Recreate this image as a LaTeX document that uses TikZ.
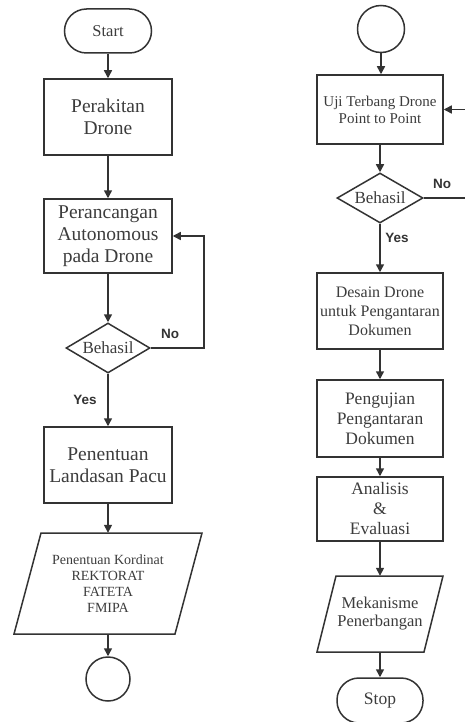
\documentclass[tikz,border=0pt]{standalone}
\usepackage{fontspec}
\setmainfont{Liberation Serif}
\newfontfamily\labelfont{Liberation Sans}
\usetikzlibrary{shapes.geometric,arrows.meta,calc}
\definecolor{ln}{HTML}{333333}
\definecolor{tx}{HTML}{3C3C3C}
\begin{document}
\begin{tikzpicture}[x=1pt,y=-1pt,
  base/.style={draw=ln,line width=1.5pt,text=tx,align=center,inner sep=0pt},
  box/.style={base,rectangle,minimum width=128pt},
  rbox/.style={base,rectangle,minimum width=126pt},
  term/.style={base,rectangle,rounded corners=22pt,minimum height=44pt},
  dia/.style={base,diamond,aspect=1.66,minimum width=84pt,minimum height=50pt,font=\fontsize{17}{19}\selectfont},
  conn/.style={base,circle,minimum size=45pt},
  para/.style={inner sep=0pt,text=tx,align=center},
  outl/.style={draw=ln,line width=1.5pt},
  arr/.style={draw=ln,line width=1.5pt,-{Triangle[length=8pt,width=8pt]}},
  lbl/.style={text=ln,inner sep=0pt,font=\labelfont\bfseries\fontsize{13.5}{15}\selectfont},
  bigtxt/.style={font=\fontsize{19.5}{22}\selectfont}
]
\useasboundingbox (0,0) rectangle (464,722);

% ---------- left column ----------
\node[term,minimum width=87pt,font=\fontsize{16.5}{18}\selectfont] (start) at (108,31) {Start};
\node[box,bigtxt,minimum height=76pt] (b1) at (108,117) {Perakitan\\Drone};
\node[box,bigtxt,minimum height=74pt] (b2) at (108,236) {Perancangan\\Autonomous\\pada Drone};
\node[dia] (d1) at (108,348) {Behasil};
\node[box,bigtxt,minimum height=76pt] (b3) at (108,465) {Penentuan\\Landasan Pacu};
\node[para,minimum width=148pt,minimum height=101pt,font=\fontsize{14}{16}\selectfont] (p1) at (108,583.5) {Penentuan Kordinat\\REKTORAT\\FATETA\\FMIPA};
\draw[outl] ($(p1.center)+(-67,-50.5)$) -- ($(p1.center)+(94,-50.5)$) -- ($(p1.center)+(67,50.5)$) -- ($(p1.center)+(-94,50.5)$) -- cycle;
\node[conn,minimum size=44pt] (c1) at (108,679) {};

\node[lbl] (no1) at (170,334) {No};
\node[lbl] (yes1) at (85,400) {Yes};

\draw[arr] (start) -- (b1);
\draw[arr] (b1) -- (b2);
\draw[arr] (b2) -- (d1);
\draw[arr] (d1) -- (b3);
\draw[arr] (b3) -- (p1);
\draw[arr] (p1) -- (c1);
\draw[arr] (d1.east) -- ++(53,0) |- (b2.east);

% ---------- right column ----------
\node[conn,minimum size=47pt] (c2) at (381,29) {};
\node[rbox,minimum height=69pt,font=\fontsize{15}{17}\selectfont] (r1) at (380,109.5) {Uji Terbang Drone\\Point to Point};
\node[dia,minimum width=86pt] (d2) at (380,198) {Behasil};
\node[rbox,minimum height=76pt,font=\fontsize{16}{19}\selectfont] (r2) at (380,311) {Desain Drone\\untuk Pengantaran\\Dokumen};
\node[rbox,minimum height=77pt,font=\fontsize{17.5}{20}\selectfont] (r3) at (380,418.5) {Pengujian\\Pengantaran\\Dokumen};
\node[rbox,minimum height=64pt,font=\fontsize{17.5}{20}\selectfont] (r4) at (380,509) {Analisis\\\&\\Evaluasi};
\node[para,minimum width=107pt,minimum height=76pt,font=\fontsize{16.5}{18}\selectfont] (p2) at (380,614) {Mekanisme\\Penerbangan};
\draw[outl] ($(p2.center)+(-44,-38)$) -- ($(p2.center)+(63,-38)$) -- ($(p2.center)+(44,38)$) -- ($(p2.center)+(-63,38)$) -- cycle;
\node[term,minimum width=86pt,minimum height=45pt,font=\fontsize{17.5}{19}\selectfont] (stop) at (380,700.5) {Stop};

\node[lbl] (no2) at (442,184) {No};
\node[lbl] (yes2) at (397,238) {Yes};

\draw[arr] (c2) -- (c2 |- r1.north);
\draw[arr] (r1) -- (d2);
\draw[arr] (d2) -- (r2);
\draw[arr] (r2) -- (r3);
\draw[arr] (r3) -- (r4);
\draw[arr] (r4) -- (p2);
\draw[arr] (p2) -- (stop);
\draw[arr] (d2.east) -- ++(55,0) |- (r1.east);
\end{tikzpicture}
\end{document}
